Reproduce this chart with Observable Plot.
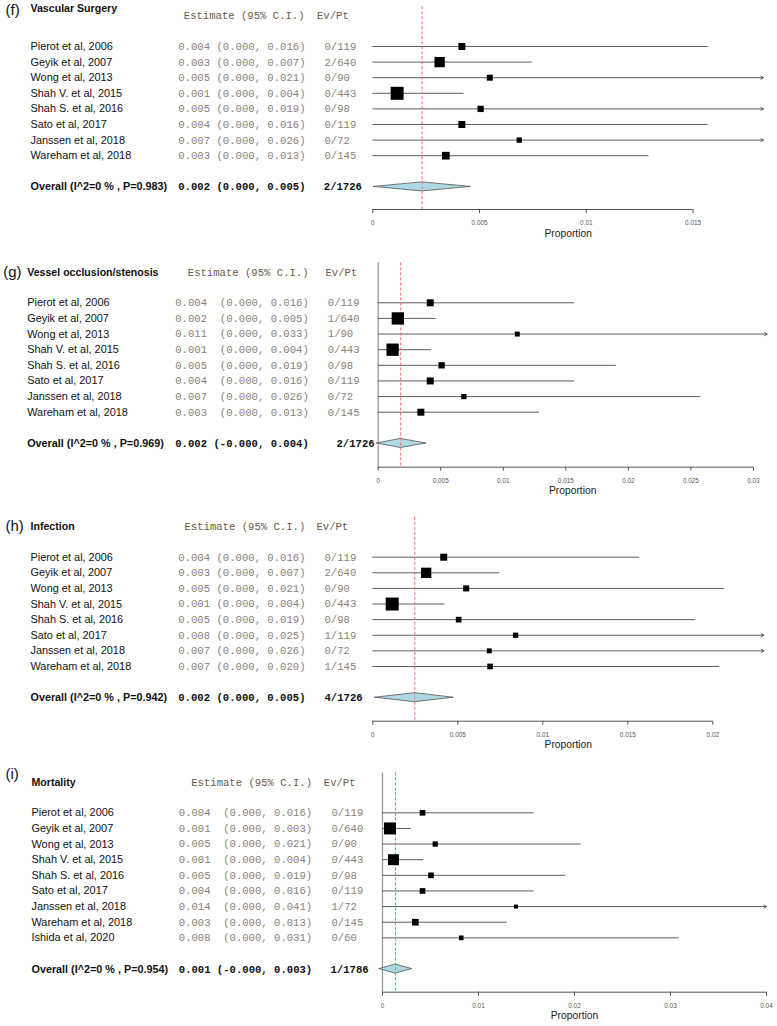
<!DOCTYPE html>
<html><head><meta charset="utf-8">
<script src="https://cdn.jsdelivr.net/npm/d3@7"></script>
<script src="https://cdn.jsdelivr.net/npm/@observablehq/plot@0.6"></script>
<style>
body{margin:0;background:#fff;}
#chart{position:relative;width:777px;height:1026px;overflow:hidden;background:#fff;}
#chart svg{position:absolute;left:0;display:block;}
</style></head><body><div id="chart"></div>
<script>
// ---------- DATA ----------
const panelLetters = ["(f)", "(g)", "(h)", "(i)"];
const panelTitles = ["Vascular Surgery", "Vessel occlusion/stenosis", "Infection", "Mortality"];

const studies8 = ["Pierot et al, 2006", "Geyik et al, 2007", "Wong et al, 2013", "Shah V. et al, 2015",
  "Shah S. et al, 2016", "Sato et al, 2017", "Janssen et al, 2018", "Wareham et al, 2018"];
const studies9 = ["Pierot et al, 2006", "Geyik et al, 2007", "Wong et al, 2013", "Shah V. et al, 2015",
  "Shah S. et al, 2016", "Sato et al, 2017", "Janssen et al, 2018", "Wareham et al, 2018", "Ishida et al, 2020"];

// (f) Vascular Surgery
const fEst = [0.00417, 0.00313, 0.00548, 0.00114, 0.00505, 0.00417, 0.00686, 0.00342];
const fLo  = [0, 0, 0, 0, 0, 0, 0, 0];
const fHi  = [0.0157, 0.00747, 0.0207, 0.00427, 0.0190, 0.0157, 0.0258, 0.01294];
const fEv  = [0, 2, 0, 0, 0, 0, 0, 0];
const fN   = [119, 640, 90, 443, 98, 119, 72, 145];
const fWt  = [9.2, 20, 6.8, 31.8, 7.5, 9.2, 5.3, 11.2];

// (g) Vessel occlusion/stenosis
const gEst = [0.00416, 0.00157, 0.01112, 0.00115, 0.00507, 0.00416, 0.00685, 0.00341];
const gLo  = [0, 0, 0, 0, 0, 0, 0, 0];
const gHi  = [0.0157, 0.00464, 0.0330, 0.00427, 0.01904, 0.0157, 0.0258, 0.0129];
const gEv  = [0, 1, 1, 0, 0, 0, 0, 0];
const gN   = [119, 640, 90, 443, 98, 119, 72, 145];
const gWt  = [9.2, 28.5, 4.7, 28.5, 7.5, 9.2, 5.3, 9.2];

// (h) Infection
const hEst = [0.00417, 0.00314, 0.00549, 0.00114, 0.00505, 0.0084, 0.00685, 0.0069];
const hLo  = [0, 0, 0, 0, 0, 0, 0, 0];
const hHi  = [0.0157, 0.00746, 0.0207, 0.00425, 0.0190, 0.0250, 0.0258, 0.0204];
const hEv  = [0, 2, 0, 0, 0, 1, 0, 1];
const hN   = [119, 640, 90, 443, 98, 119, 72, 145];
const hWt  = [9.2, 20, 6.8, 31.8, 6.1, 5.3, 4.7, 6.1];

// (i) Mortality
const iEst = [0.00417, 0.00078, 0.00549, 0.00114, 0.00505, 0.00417, 0.0139, 0.00342, 0.0082];
const iLo  = [0, 0, 0, 0, 0, 0, 0, 0, 0];
const iHi  = [0.0158, 0.0030, 0.0207, 0.0043, 0.0191, 0.0158, 0.0410, 0.0130, 0.0309];
const iEv  = [0, 0, 0, 0, 0, 0, 1, 0, 0];
const iN   = [119, 640, 90, 443, 98, 119, 72, 145, 60];
const iWt  = [6.1, 27.1, 5.3, 22.8, 6.1, 6.1, 3.0, 8.5, 4.2];

// Overall (pooled) results, one entry per panel
const overallEst = [0.00231, 0.0018, 0.00247, 0.00135];
const overallLo  = [0.00005, -0.0001, 0.00014, -0.0003];
const overallHi  = [0.0046, 0.00386, 0.00476, 0.0031];
const overallI2  = [0, 0, 0, 0];
const overallP   = ["0.983", "0.969", "0.942", "0.954"];
const overallEv  = [2, 2, 4, 1];
const overallN   = [1726, 1726, 1726, 1786];

// x-axis ticks and plot x-limits per panel
const axisTicks = [
  [0, 0.005, 0.01, 0.015],
  [0, 0.005, 0.01, 0.015, 0.02, 0.025, 0.03],
  [0, 0.005, 0.01, 0.015, 0.02],
  [0, 0.01, 0.02, 0.03, 0.04]
];
const xLimits = [0.0183, 0.0311, 0.0230, 0.04];

// ---------- LAYOUT (pixels) ----------
const layouts = [
  {top: 0,   height: 250, row1: 46,    step: 15.6,  axis: 209,   x0: 372.3, xEndPx: 763,
   labelX: 30, estX: 177.7, ciRight: 305, evX: 324, evOX: 323.3, headerX: 183.3, evHeaderX: 316.5,
   letterX: 5, titleX: 30, titleRow: -1.44, letterRow: -1.3, headerRow: -0.97, vAxis: false},
  {top: 250, height: 250, row1: 302.3, step: 15.63, axis: 466.7, x0: 377.7, xEndPx: 766.7,
   labelX: 26.7, estX: 174.7, ciRight: 308.3, evX: 327.3, evOX: 336, headerX: 187.3, evHeaderX: 325,
   letterX: 2.7, titleX: 26.7, titleRow: -0.95, letterRow: -0.95, headerRow: -0.95, vAxis: true},
  {top: 500, height: 250, row1: 556.7, step: 15.61, axis: 720.7, x0: 372.3, xEndPx: 763.3,
   labelX: 30, estX: 177.7, ciRight: 305, evX: 324, evOX: 324, headerX: 184, evHeaderX: 316,
   letterX: 5, titleX: 30, titleRow: -0.97, letterRow: -1.0, headerRow: -0.97, vAxis: false},
  {top: 750, height: 276, row1: 812.3, step: 15.63, axis: 991.7, x0: 382, xEndPx: 766,
   labelX: 31, estX: 178.3, ciRight: 311.7, evX: 331, evOX: 330, headerX: 190.7, evHeaderX: 323.3,
   letterX: 5, titleX: 31, titleRow: -0.92, letterRow: -1.45, headerRow: -0.92, vAxis: true}
];

const SANS = "Liberation Sans, Arial, Helvetica, sans-serif";
const MONO = "Liberation Mono, Courier New, monospace";
const NUM_COLOR = "#8a8179";
const HEAD_COLOR = "#6e5a48";
const LINE_COLOR = "#5e5e5e";

const panels = [
  {names: studies8, est: fEst, lo: fLo, hi: fHi, ev: fEv, n: fN, wt: fWt},
  {names: studies8, est: gEst, lo: gLo, hi: gHi, ev: gEv, n: gN, wt: gWt},
  {names: studies8, est: hEst, lo: hLo, hi: hHi, ev: hEv, n: hN, wt: hWt},
  {names: studies9, est: iEst, lo: iLo, hi: iHi, ev: iEv, n: iN, wt: iWt}
];

const fmt = v => v.toFixed(3);

function forest(k) {
  const p = panels[k], L = layouts[k];
  const xMax = xLimits[k];
  const ticks = axisTicks[k];
  const rows = p.names.map((name, i) => ({
    name, row: i + 1, est: p.est[i], lo: p.lo[i], hi: p.hi[i], w: p.wt[i],
    hiClip: Math.min(p.hi[i], xMax), trunc: p.hi[i] > xMax,
    evText: `${p.ev[i]}/${p.n[i]}`
  }));
  const oRow = p.names.length + 2;
  const overall = [{
    row: oRow,
    label: `Overall (I^2=${overallI2[k]} % , P=${overallP[k]})`,
    est: fmt(overallEst[k]),
    ci: `(${fmt(overallLo[k])}, ${fmt(overallHi[k])})`,
    ev: `${overallEv[k]}/${overallN[k]}`
  }];
  const hd = 0.29;
  const diamond = [
    {x: overallLo[k], y1: oRow, y2: oRow},
    {x: overallEst[k], y1: oRow - hd, y2: oRow + hd},
    {x: overallHi[k], y1: oRow, y2: oRow}
  ];
  const marginTop = L.row1 - 2.55 * L.step - L.top;
  const axisRow = 1 + (L.axis - L.row1) / L.step;
  const marginBottom = L.top + L.height - L.axis;
  const dx = x => x - L.x0;

  const marks = [];
  if (L.vAxis) marks.push(Plot.ruleX([0], {stroke: "#9a9a9a", strokeWidth: 1.3}));
  marks.push(
    Plot.ruleY(rows.filter(d => !d.trunc), {y: "row", x1: "lo", x2: "hi", stroke: LINE_COLOR, strokeWidth: 1}),
    Plot.arrow(rows.filter(d => d.trunc), {x1: "lo", x2: "hiClip", y1: "row", y2: "row",
      stroke: LINE_COLOR, strokeWidth: 1, headLength: 4.5, headAngle: 60}),
    Plot.areaY(diamond, {x: "x", y1: "y1", y2: "y2", fill: "#add8e6", stroke: "#555", strokeWidth: 0.8}),
    Plot.ruleX([overallEst[k]], {stroke: "#ff6666", strokeDasharray: "3,2", strokeWidth: 1}),
    Plot.dot(rows, {x: "est", y: "row", r: "w", symbol: "square", fill: "#000"}),
    // axis line + ticks
    Plot.ruleY([{y: axisRow, x1: ticks[0], x2: ticks[ticks.length - 1]}], {y: "y", x1: "x1", x2: "x2", stroke: "#555", strokeWidth: 1}),
    Plot.axisX(ticks, {anchor: "bottom", tickSize: 4, tickPadding: 7, fontSize: 6.4, fontFamily: SANS,
      color: "#555", tickFormat: d => String(d), label: null}),
    Plot.text(["Proportion"], {frameAnchor: "bottom", dy: 27, fontSize: 10.3, fontFamily: SANS, fill: "#222"}),
    // study labels
    Plot.text(rows, {y: "row", text: "name", frameAnchor: "left", dx: dx(L.labelX), textAnchor: "start",
      fontSize: 10.9, fontFamily: SANS, fill: "#111"}),
    Plot.text(rows, {y: "row", text: d => fmt(d.est), frameAnchor: "left", dx: dx(L.estX), textAnchor: "start",
      fontSize: 10.6, fontFamily: MONO, fill: NUM_COLOR}),
    Plot.text(rows, {y: "row", text: d => `(${fmt(d.lo)}, ${fmt(d.hi)})`, frameAnchor: "left", dx: dx(L.ciRight),
      textAnchor: "end", fontSize: 10.6, fontFamily: MONO, fill: NUM_COLOR}),
    Plot.text(rows, {y: "row", text: "evText", frameAnchor: "left", dx: dx(L.evX), textAnchor: "start",
      fontSize: 10.6, fontFamily: MONO, fill: NUM_COLOR}),
    // overall row
    Plot.text(overall, {y: "row", text: "label", frameAnchor: "left", dx: dx(L.labelX), textAnchor: "start",
      fontSize: 10.8, fontWeight: "bold", fontFamily: SANS, fill: "#111"}),
    Plot.text(overall, {y: "row", text: "est", frameAnchor: "left", dx: dx(L.estX), textAnchor: "start",
      fontSize: 10.6, fontWeight: "bold", fontFamily: MONO, fill: "#111"}),
    Plot.text(overall, {y: "row", text: "ci", frameAnchor: "left", dx: dx(L.ciRight), textAnchor: "end",
      fontSize: 10.6, fontWeight: "bold", fontFamily: MONO, fill: "#111"}),
    Plot.text(overall, {y: "row", text: "ev", frameAnchor: "left", dx: dx(L.evOX), textAnchor: "start",
      fontSize: 10.6, fontWeight: "bold", fontFamily: MONO, fill: "#111"}),
    // header
    Plot.text([{row: L.headerRow, t: "Estimate (95% C.I.)"}], {y: "row", text: "t", frameAnchor: "left",
      dx: dx(L.headerX), textAnchor: "start", fontSize: 10.6, fontFamily: MONO, fill: HEAD_COLOR}),
    Plot.text([{row: L.headerRow, t: "Ev/Pt"}], {y: "row", text: "t", frameAnchor: "left",
      dx: dx(L.evHeaderX), textAnchor: "start", fontSize: 10.6, fontFamily: MONO, fill: HEAD_COLOR}),
    // title and panel letter
    Plot.text([{row: L.titleRow, t: panelTitles[k]}], {y: "row", text: "t", frameAnchor: "left",
      dx: dx(L.titleX), textAnchor: "start", fontSize: 10.6, fontWeight: "bold", fontFamily: SANS, fill: "#111"}),
    Plot.text([{row: L.letterRow, t: panelLetters[k]}], {y: "row", text: "t", frameAnchor: "left",
      dx: dx(L.letterX), textAnchor: "start", fontSize: 15, fontFamily: SANS, fill: "#111"})
  );

  const svg = Plot.plot({
    width: 777, height: L.height,
    marginLeft: L.x0, marginRight: 777 - L.xEndPx, marginTop, marginBottom,
    x: {domain: [0, xMax]},
    y: {domain: [-1.55, axisRow], reverse: true, axis: null},
    r: {type: "sqrt", domain: [0, 100], range: [0, 13]},
    style: {background: "transparent", overflow: "visible"},
    marks
  });
  svg.style.top = L.top + "px";
  return svg;
}

const chart = document.getElementById("chart");
for (let k = 0; k < 4; k++) chart.appendChild(forest(k));
</script>
</body></html>
